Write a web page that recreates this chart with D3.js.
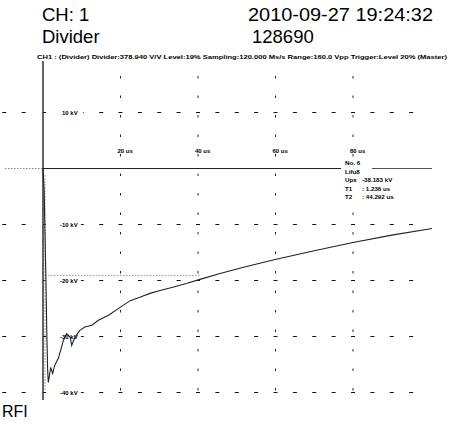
<!DOCTYPE html>
<html><head><meta charset="utf-8">
<script src="https://cdn.jsdelivr.net/npm/d3@7"></script>
<style>body{margin:0;background:#fff}svg{display:block}text{font-family:"Liberation Sans",Arial,sans-serif}</style>
</head><body>
<svg id="c" width="449" height="427"></svg>
<script>
// time in microseconds
const times = [0, 0.3, 0.7, 1.0, 1.2, 1.37, 2.0, 2.5, 3.0, 3.95, 4.8, 5.25, 6.1, 7.0, 7.4, 8.26, 9.5, 10.8, 12.6, 14.3, 16.9, 19.9, 22.5, 25.0, 27.6, 30.2, 33.5, 37.2, 40.5, 45.7, 52.0, 59.9, 70.0, 80.0, 90.0, 100.4];
// voltage in kV
const volts = [0, -4, -18, -30, -36, -38.2, -35.5, -36.6, -35.2, -33.9, -31.9, -30.7, -29.5, -30.1, -31.6, -30.1, -28.9, -28.3, -28.0, -27.1, -26.2, -24.8, -23.6, -23.0, -22.3, -21.8, -21.2, -20.5, -19.8, -18.75, -17.6, -16.25, -14.7, -13.2, -11.9, -10.7];
const vTicks = [10, -10, -20, -30, -40];
const vTickLabels = ["10 kV", "-10 kV", "-20 kV", "-30 kV", "-40 kV"];
const tTicks = [20, 40, 60, 80];
const tTickLabels = ["20 us", "40 us", "60 us", "80 us"];
const halfLevel = -19.09;
const infoLine = "CH1 : (Divider)  Divider:378.940 V/V  Level:19%  Sampling:120.000 Ms/s  Range:160.0 Vpp  Trigger:Level 20%  (Master)";
const cursorLabels = ["No. 6", "Lifu8", "Upx", "T1", "T2"];
const cursorValues = ["", "", "-38.183 kV", ": 1.236 us", ": 44.292 us"];

const svg = d3.select("#c");
const x = d3.scaleLinear().domain([0, 100]).range([43, 430.5]);
const y = d3.scaleLinear().domain([-40, 10]).range([392.5, 112.5]);

// header
svg.append("text").attr("x", 42).attr("y", 21).attr("font-size", 18.5).text("CH: 1");
svg.append("text").attr("x", 248).attr("y", 21).attr("font-size", 18.5)
  .attr("textLength", 185).attr("lengthAdjust", "spacingAndGlyphs").text("2010-09-27 19:24:32");
svg.append("text").attr("x", 42).attr("y", 43).attr("font-size", 18.5).text("Divider");
svg.append("text").attr("x", 252).attr("y", 43).attr("font-size", 18.5).text("128690");
svg.append("text").attr("x", 37).attr("y", 59).attr("font-size", 5.6).attr("font-weight", "bold")
  .attr("textLength", 410).attr("lengthAdjust", "spacingAndGlyphs").text(infoLine);
svg.append("text").attr("x", 2).attr("y", 417).attr("font-size", 16).text("RFI");

// horizontal grid (dashes every 5 us)
const dashT = d3.range(-10, 100, 5);
vTicks.forEach(v => {
  svg.append("g").selectAll("line").data(dashT.filter(t => t !== 0 && t !== 5)).join("line")
    .attr("x1", t => x(t) - 2).attr("x2", t => x(t) + 2)
    .attr("y1", y(v)).attr("y2", y(v)).attr("stroke", "#111").attr("stroke-width", 1);
  svg.append("line").attr("x1", x(0)).attr("x2", x(0) + 3).attr("y1", y(v)).attr("y2", y(v)).attr("stroke", "#111");
});
// vertical grid (dotted ticks)
tTicks.forEach(t => {
  svg.append("line").attr("x1", x(t)).attr("x2", x(t)).attr("y1", 76).attr("y2", 394)
    .attr("stroke", "#222").attr("stroke-width", 1).attr("stroke-dasharray", "2.5,17");
});

// zero line
svg.append("line").attr("x1", 5).attr("x2", x(0)).attr("y1", y(0)).attr("y2", y(0))
  .attr("stroke", "#888").attr("stroke-dasharray", "1.5,1.5");
svg.append("line").attr("x1", x(0)).attr("x2", 341).attr("y1", y(0)).attr("y2", y(0)).attr("stroke", "#222").attr("stroke-width", 1.2);
svg.append("line").attr("x1", 372).attr("x2", 432).attr("y1", y(0)).attr("y2", y(0)).attr("stroke", "#555").attr("stroke-width", 1);

// 50% cursor line
svg.append("line").attr("x1", x(0) + 2).attr("x2", x(40.5)).attr("y1", y(halfLevel)).attr("y2", y(halfLevel))
  .attr("stroke", "#999").attr("stroke-dasharray", "1.5,1.5");

// axis line
svg.append("line").attr("x1", x(0)).attr("x2", x(0)).attr("y1", 61).attr("y2", 400).attr("stroke", "#111").attr("stroke-width", 1.3);
svg.append("line").attr("x1", x(0) + 2).attr("x2", x(0) + 2).attr("y1", 175).attr("y2", 390).attr("stroke", "#aaa").attr("stroke-width", 1).attr("stroke-dasharray", "2,1");

// labels with white backing
vTicks.forEach((v, i) => {
  const lx = x(0) + (v === 10 ? 19 : 17);
  svg.append("rect").attr("x", lx - 1).attr("y", y(v) - 3.5).attr("width", 22).attr("height", 7).attr("fill", "#fff");
  svg.append("text").attr("x", lx).attr("y", y(v) + 2).attr("font-size", 6).attr("font-weight", "bold").text(vTickLabels[i]);
});
tTicks.forEach((t, i) => {
  svg.append("rect").attr("x", x(t) - 4).attr("y", 146).attr("width", 17).attr("height", 8).attr("fill", "#fff");
  svg.append("text").attr("x", x(t) - 3).attr("y", 153).attr("font-size", 6).attr("font-weight", "bold").text(tTickLabels[i]);
});

// curve
const pts = times.map((t, i) => [t, volts[i]]);
svg.append("path").datum(pts)
  .attr("d", d3.line().x(d => x(d[0])).y(d => y(d[1])))
  .attr("fill", "none").attr("stroke", "#222").attr("stroke-width", 1.1);

// cursor annotation
svg.append("rect").attr("x", 343).attr("y", 158).attr("width", 28).attr("height", 45).attr("fill", "#fff");
svg.append("rect").attr("x", 355).attr("y", 176).attr("width", 48).attr("height", 27).attr("fill", "#fff");
cursorLabels.forEach((s, i) => {
  const yy = 165 + i * 8.6;
  svg.append("text").attr("x", 345).attr("y", yy).attr("font-size", 6.2).attr("font-weight", "bold").text(s);
  if (cursorValues[i]) svg.append("text").attr("x", 362).attr("y", yy).attr("font-size", 6.2).attr("font-weight", "bold").text(cursorValues[i]);
});
</script>
</body></html>
